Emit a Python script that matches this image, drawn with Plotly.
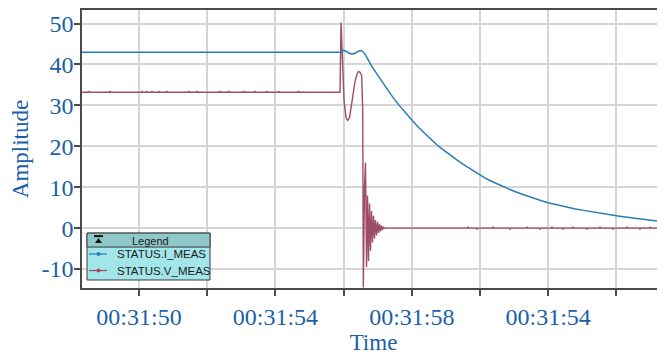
import plotly.graph_objects as go

# ---------------- data ----------------
series_names = ["STATUS.I_MEAS", "STATUS.V_MEAS"]

x_tickvals = [50, 52, 54, 56, 58, 60, 62, 64]
x_ticktext = ["00:31:50", "", "00:31:54", "", "00:31:58", "", "00:31:54", ""]
y_tickvals = [-10, 0, 10, 20, 30, 40, 50]
y_ticktext = ["-10", "0", "10", "20", "30", "40", "50"]

# STATUS.I_MEAS (time in seconds past 00:31:00)
i_time = [48.33, 55.95, 55.97, 56.05, 56.15, 56.25, 56.35, 56.45, 56.52, 56.58, 56.65, 56.72, 56.80,
          57.0, 57.2, 57.4, 57.6, 57.8, 58.0, 58.2, 58.4, 58.6, 58.8,
          59.0, 59.2, 59.4, 59.6, 59.8, 60.0, 60.2, 60.4, 60.6, 60.8,
          61.0, 61.2, 61.4, 61.6, 61.8, 62.0, 62.2, 62.4, 62.6, 62.8,
          63.0, 63.2, 63.4, 63.6, 63.8, 64.0, 64.2, 64.4, 64.6, 64.8,
          65.0, 65.2, 65.43]
i_vals = [43.0, 43.0, 43.5, 43.3, 42.8, 42.5, 42.8, 43.3, 43.4, 43.0, 42.2, 41.0, 39.9,
          37.4, 34.9, 32.5, 30.3, 28.3, 26.4, 24.6, 22.9, 21.4, 19.9,
          18.6, 17.3, 16.2, 15.1, 14.0, 12.9, 12.0, 11.2, 10.4, 9.7,
          9.0, 8.4, 7.8, 7.2, 6.7, 6.2, 5.8, 5.4, 5.0, 4.7,
          4.4, 4.1, 3.8, 3.5, 3.3, 3.0, 2.8, 2.6, 2.4, 2.2,
          2.0, 1.8, 1.5]

# STATUS.V_MEAS
v_time = [48.33, 48.50, 48.52, 48.54, 49.13, 49.15, 49.17, 50.07, 50.09, 50.11,
          50.21, 50.23, 50.25, 50.36, 50.38, 50.40, 50.56, 50.58, 50.60, 50.80,
          50.82, 50.84, 51.44, 51.46, 51.48, 51.68, 51.70, 51.72, 52.36, 52.38,
          52.40, 52.61, 52.63, 52.65, 53.05, 53.07, 53.09, 53.38, 53.40, 53.42,
          53.73, 53.75, 53.77, 54.08, 54.10, 54.12, 54.66, 54.68, 54.70,
          55.894, 55.924, 55.962, 56.012, 56.07, 56.12, 56.173, 56.217, 56.276, 56.334,
          56.393, 56.437, 56.481, 56.53, 56.56, 56.578,
          56.613, 56.642, 56.672, 56.701, 56.730, 56.760, 56.789, 56.818, 56.848, 56.877,
          56.906, 56.935, 56.965, 56.994, 57.023, 57.053, 57.082, 57.111, 57.141, 57.170,
          57.214,
          59.63, 59.65, 59.67, 59.89, 59.91, 59.93, 60.36, 60.38, 60.40, 60.86,
          60.88, 60.90, 61.36, 61.38, 61.40, 61.74, 61.76, 61.78, 62.09, 62.11,
          62.13, 62.41, 62.43, 62.45, 62.71, 62.73, 62.75, 63.12, 63.14, 63.16,
          63.50, 63.52, 63.54, 63.88, 63.90, 63.92, 64.29, 64.31, 64.33, 64.67,
          64.69, 64.71, 64.97, 64.99, 65.01, 65.43]
v_vals = [33.2, 33.2, 33.5, 33.2, 33.2, 33.5, 33.2, 33.2, 33.5, 33.2,
          33.2, 33.5, 33.2, 33.2, 33.5, 33.2, 33.2, 33.5, 33.2, 33.2,
          33.5, 33.2, 33.2, 33.5, 33.2, 33.2, 33.5, 33.2, 33.2, 33.5,
          33.2, 33.2, 33.5, 33.2, 33.2, 33.5, 33.2, 33.2, 33.5, 33.2,
          33.2, 33.5, 33.2, 33.2, 33.5, 33.2, 33.2, 33.5, 33.2,
          33.2, 50.3, 42.7, 31.2, 27.0, 26.3, 27.0, 29.5, 32.9, 35.8,
          37.6, 38.3, 38.1, 37.3, 28.8, -14.5,
          10.0, 16.0, -9.5, 8.0, -8.0, 6.0, -5.5, 4.2, -3.5, 3.0,
          -2.5, 2.0, -1.8, 1.5, -1.2, 1.0, -0.8, 0.6, -0.4, 0.2,
          0.0,
          0.0, 0.3, 0.0, 0.0, -0.3, 0.0, 0.0, 0.3, 0.0, 0.0,
          -0.3, 0.0, 0.0, 0.3, 0.0, 0.0, -0.3, 0.0, 0.0, 0.3,
          0.0, 0.0, -0.3, 0.0, 0.0, 0.3, 0.0, 0.0, -0.3, 0.0,
          0.0, 0.3, 0.0, 0.0, -0.3, 0.0, 0.0, 0.3, 0.0, 0.0,
          -0.3, 0.0, 0.0, 0.3, 0.0, 0.0]

# ---------------- style ----------------
I_COLOR = "#2b7bb3"
V_COLOR = "#9e4d66"
TEXT_BLUE = "#1b5fa8"
GRID = "#d5d5d5"
AXIS = "#4a4a4a"
SERIF = "Liberation Serif, Times New Roman, serif"
SANS = "Liberation Sans, Arial, sans-serif"

# the page body has an 8px margin, so the figure starts at (8, 8) of the window
OFF = 8
W, H = 665, 355
ML, MR, MT, MB = 74, 8, 1.5, 75
PW, PH = W - ML - MR, H - MT - MB


def px2x(px):
    """window pixel x -> paper coordinate"""
    return (px - OFF - ML) / PW


def px2y(py):
    """window pixel y -> paper coordinate"""
    return (H - MB - (py - OFF)) / PH


fig = go.Figure()
fig.add_trace(go.Scatter(x=v_time, y=v_vals, mode="lines", name=series_names[1],
                         line=dict(color=V_COLOR, width=1.4), showlegend=False))
fig.add_trace(go.Scatter(x=i_time, y=i_vals, mode="lines", name=series_names[0],
                         line=dict(color=I_COLOR, width=1.5), showlegend=False))

fig.update_layout(
    width=W, height=H,
    margin=dict(l=ML, r=MR, t=MT, b=MB, autoexpand=False),
    paper_bgcolor="white", plot_bgcolor="white",
    showlegend=False,
)
fig.update_xaxes(
    range=[48.328, 65.425], tickmode="array", tickvals=x_tickvals, ticktext=x_ticktext,
    showgrid=True, gridcolor=GRID, gridwidth=1.5, zeroline=False,
    showline=True, linecolor=AXIS, linewidth=1.5, mirror=True,
    ticks="outside", ticklen=6, tickwidth=1.5, tickcolor=AXIS,
    tickfont=dict(family=SERIF, size=24, color=TEXT_BLUE),
    title=dict(text="Time", font=dict(family=SERIF, size=23, color=TEXT_BLUE), standoff=5),
)
fig.update_yaxes(
    range=[-14.63, 53.3], tickmode="array", tickvals=y_tickvals, ticktext=y_ticktext,
    showgrid=True, gridcolor=GRID, gridwidth=1.5, zeroline=False,
    showline=True, linecolor=AXIS, linewidth=1.5, mirror=False,
    ticks="outside", ticklen=6, tickwidth=1.5, tickcolor=AXIS,
    ticklabelstandoff=-4,
    tickfont=dict(family=SERIF, size=24, color=TEXT_BLUE),
    title=dict(text="Amplitude", font=dict(family=SERIF, size=23, color=TEXT_BLUE), standoff=6),
)

# ---------------- custom legend box ----------------
shapes = []
shapes.append(dict(type="rect", xref="paper", yref="paper",
                   x0=px2x(87), x1=px2x(210), y0=px2y(280), y1=px2y(233),
                   fillcolor="#a3e6ea", line=dict(color="#3a3a3a", width=1), layer="above"))
shapes.append(dict(type="rect", xref="paper", yref="paper",
                   x0=px2x(87), x1=px2x(210), y0=px2y(247), y1=px2y(233),
                   fillcolor="#90c8c9", line=dict(color="#3a3a3a", width=1), layer="above"))
shapes.append(dict(type="rect", xref="paper", yref="paper",
                   x0=px2x(94), x1=px2x(103), y0=px2y(237), y1=px2y(235),
                   fillcolor="#111", line=dict(width=0), layer="above"))
shapes.append(dict(type="path", xref="paper", yref="paper",
                   path=f"M {px2x(95)} {px2y(243)} L {px2x(102)} {px2y(243)} L {px2x(98.5)} {px2y(238)} Z",
                   fillcolor="#111", line=dict(width=0), layer="above"))

annotations = [dict(text="Legend", xref="paper", yref="paper", x=px2x(150), y=px2y(240.5),
                    xanchor="center", yanchor="middle", showarrow=False,
                    font=dict(family=SANS, size=11, color="#1a1a1a"))]

entry_rows = [254, 270.5]
entry_colors = [I_COLOR, V_COLOR]
for name, row, col in zip(series_names, entry_rows, entry_colors):
    shapes.append(dict(type="line", xref="paper", yref="paper",
                       x0=px2x(89), x1=px2x(107), y0=px2y(row), y1=px2y(row),
                       line=dict(color=col, width=1.2), layer="above"))
    shapes.append(dict(type="circle", xref="paper", yref="paper",
                       x0=px2x(96.5), x1=px2x(100.5), y0=px2y(row + 2), y1=px2y(row - 2),
                       fillcolor=col, line=dict(width=0), layer="above"))
    annotations.append(dict(text=name, xref="paper", yref="paper", x=px2x(115), y=px2y(row),
                            xanchor="left", yanchor="middle", showarrow=False,
                            font=dict(family=SANS, size=11.5, color="#1a1a1a")))

fig.update_layout(shapes=shapes, annotations=annotations)

fig.write_html("out.html")
